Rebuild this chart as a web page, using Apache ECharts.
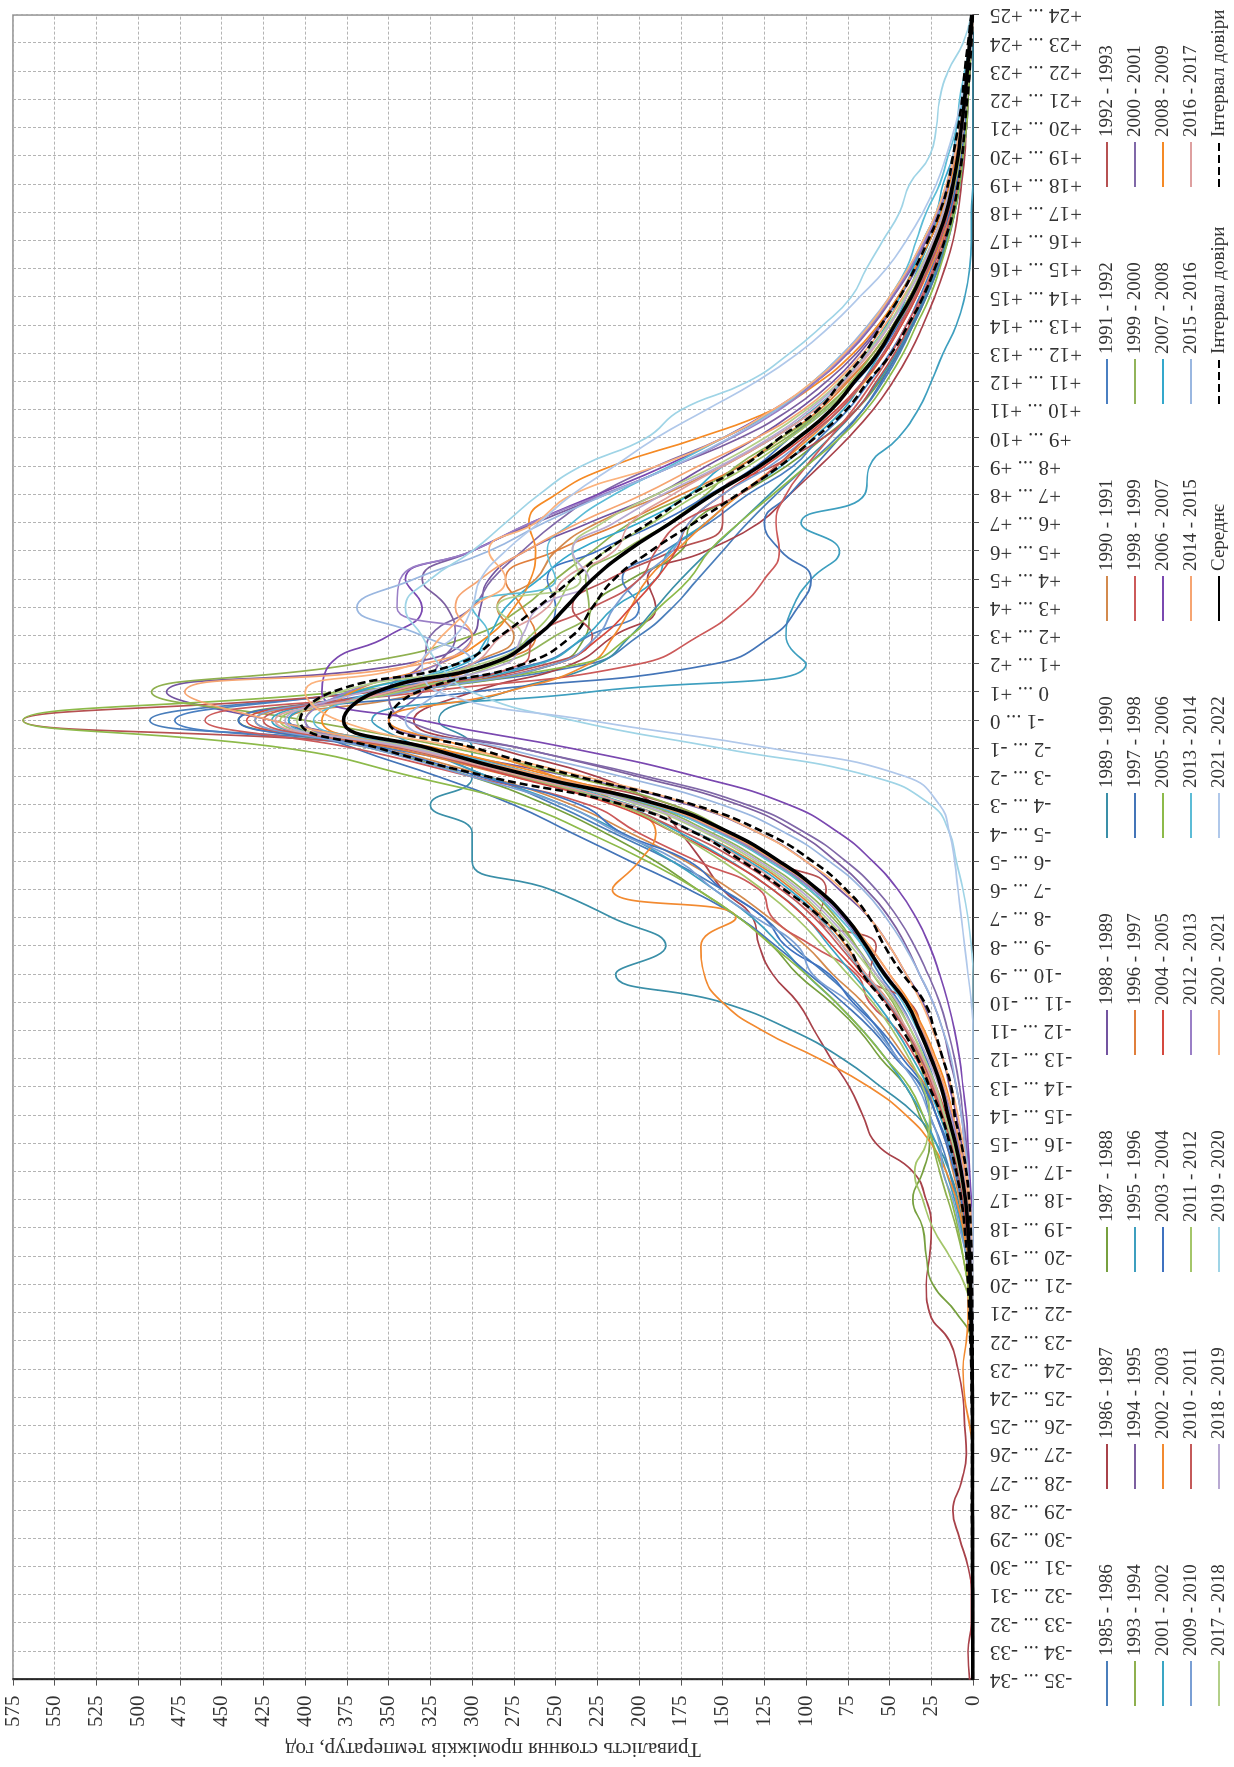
<!DOCTYPE html>
<html>
<head>
<meta charset="utf-8">
<script src="https://cdn.jsdelivr.net/npm/echarts@6.0.0/dist/echarts.min.js"></script>
<style>
  html, body { margin: 0; padding: 0; background: #fff; overflow: hidden; }
  /* chart is laid out normally, then turned 90deg counter-clockwise like the figure */
  #chart {
    position: absolute; left: 0; top: 0;
    width: 1767px; height: 1234px;
    transform-origin: 0 0;
    transform: translate(0px, 1767px) rotate(-90deg);
  }
</style>
</head>
<body>
<div id="chart"></div>
<script>
var FONT = "'Liberation Serif', 'DejaVu Serif', serif";

// temperature intervals (x axis)
var categories = [
  "-35 ... -34", "-34 ... -33", "-33 ... -32", "-32 ... -31", "-31 ... -30",
  "-30 ... -29", "-29 ... -28", "-28 ... -27", "-27 ... -26", "-26 ... -25",
  "-25 ... -24", "-24 ... -23", "-23 ... -22", "-22 ... -21", "-21 ... -20",
  "-20 ... -19", "-19 ... -18", "-18 ... -17", "-17 ... -16", "-16 ... -15",
  "-15 ... -14", "-14 ... -13", "-13 ... -12", "-12 ... -11", "-11 ... -10",
  "-10 ... -9", "-9 ... -8", "-8 ... -7", "-7 ... -6", "-6 ... -5",
  "-5 ... -4", "-4 ... -3", "-3 ... -2", "-2 ... -1", "-1 ... 0",
  "0 ... +1", "+1 ... +2", "+2 ... +3", "+3 ... +4", "+4 ... +5",
  "+5 ... +6", "+6 ... +7", "+7 ... +8", "+8 ... +9", "+9 ... +10",
  "+10 ... +11", "+11 ... +12", "+12 ... +13", "+13 ... +14", "+14 ... +15",
  "+15 ... +16", "+16 ... +17", "+17 ... +18", "+18 ... +19", "+19 ... +20",
  "+20 ... +21", "+21 ... +22", "+22 ... +23", "+23 ... +24", "+24 ... +25"
];

var years = [
  "1985 - 1986", "1986 - 1987", "1987 - 1988", "1988 - 1989", "1989 - 1990",
  "1990 - 1991", "1991 - 1992", "1992 - 1993", "1993 - 1994", "1994 - 1995",
  "1995 - 1996", "1996 - 1997", "1997 - 1998", "1998 - 1999", "1999 - 2000",
  "2000 - 2001", "2001 - 2002", "2002 - 2003", "2003 - 2004", "2004 - 2005",
  "2005 - 2006", "2006 - 2007", "2007 - 2008", "2008 - 2009", "2009 - 2010",
  "2010 - 2011", "2011 - 2012", "2012 - 2013", "2013 - 2014", "2014 - 2015",
  "2015 - 2016", "2016 - 2017", "2017 - 2018", "2018 - 2019", "2019 - 2020",
  "2020 - 2021", "2021 - 2022"
];

var yearColors = [
  "#4a7ebb", "#a8424a", "#77a03f", "#7354a0", "#3a8fa8",
  "#d38a4e", "#4a7fc1", "#b65152", "#8fb04f", "#7c5fa0",
  "#3e9fbf", "#e07f3c", "#4475b8", "#cc5a5a", "#92b45a",
  "#8068a8", "#3aa6c4", "#f28a30", "#3f72c0", "#d5493f",
  "#8dba4a", "#7a48b0", "#34a8cc", "#f58a25", "#7a9fd4",
  "#c45a5a", "#a4c66a", "#9a7fc6", "#5cbcd6", "#f6a572",
  "#9ab7e0", "#dea0a0", "#b3cf88", "#b8a9d2", "#9fd4e6",
  "#fbb27c", "#b0c8ea"
];

// hours per interval, one array per season
var d1985 = [0,0,0,0,0,0,0,0,0,0, 0,0,1,2,3,4,7,10,14,19, 26,31,45,56,70,88,108,125,150,180, 215,250,290,340,493,365,230,200,180,165, 150,135,118,100,82,66,54,44,36,29, 22,16,11,8,6,4,3,2,1,0];
var d1986 = [2,3,1,1,3,8,12,7,4,5, 6,9,14,26,28,26,25,28,36,58, 66,74,85,95,105,120,128,132,150,162, 175,190,225,285,335,300,240,215,190,195, 160,128,110,92,75,60,48,38,30,23, 17,12,9,7,5,4,3,2,1,0];
var d1987 = [0,0,0,0,0,0,0,0,0,0, 0,0,1,10,24,28,30,36,30,26, 32,40,55,68,85,105,120,140,165,190, 220,255,300,360,440,340,250,232,228,205, 175,168,140,112,90,70,56,45,36,28, 21,16,12,9,7,5,3,2,1,0];
var d1988 = [0,0,0,0,0,0,0,0,0,0, 0,0,0,0,0,1,2,3,5,7, 10,14,18,24,30,40,50,62,80,100, 128,170,240,330,420,483,340,300,295,290, 268,230,190,160,130,105,84,68,55,44, 34,26,19,14,10,7,5,3,2,0];
var d1989 = [0,0,0,0,0,0,0,0,0,0, 0,0,0,1,2,4,6,9,14,22, 34,55,78,108,150,214,184,216,253,300, 300,325,300,300,320,280,225,205,190,175, 158,140,122,104,86,70,57,46,37,29, 22,16,11,8,6,4,3,2,1,0];
var d1990 = [0,0,0,0,0,0,0,0,0,0, 0,0,0,1,2,3,5,8,12,16, 22,28,40,52,66,84,100,122,145,172, 205,240,290,350,410,330,300,275,285,262, 250,225,185,150,120,95,76,60,48,38, 29,22,16,11,8,6,4,3,1,0];
var d1991 = [0,0,0,0,0,0,0,0,0,0, 0,0,0,0,1,2,3,5,8,12, 17,22,28,35,44,56,66,78,96,120, 150,195,270,350,478,370,262,230,200,210, 185,158,135,108,92,75,62,50,40,32, 25,19,14,10,7,5,4,3,1,0];
var d1992 = [0,0,0,0,0,0,0,0,0,0, 0,0,0,0,0,1,2,4,6,9, 13,18,24,30,38,62,58,92,88,120, 150,180,255,330,569,360,255,228,240,218, 180,150,150,120,90,70,58,47,38,30, 23,17,13,9,7,5,3,2,1,0];
var d1993 = [0,0,0,0,0,0,0,0,0,0, 0,0,0,1,3,6,10,15,20,24, 26,28,33,40,48,60,70,82,98,120, 145,180,240,310,400,492,370,300,270,250, 228,205,170,140,112,90,72,58,46,36, 28,21,15,11,8,6,4,3,1,0];
var d1994 = [0,0,0,0,0,0,0,0,0,0, 0,0,0,0,0,0,1,2,3,5, 7,10,14,18,24,32,40,50,64,82, 105,140,200,270,350,330,320,310,315,330, 300,262,220,180,140,110,88,70,56,45, 35,26,19,14,10,7,5,3,2,0];
var d1995 = [0,0,0,0,0,0,0,0,0,0, 0,0,0,1,2,4,7,11,16,22, 30,40,52,66,82,100,115,132,155,180, 210,245,290,330,360,230,100,112,108,97, 80,103,65,62,45,33,25,18,10,5, 2,1,1,0,0,0,0,0,0,0];
var d1996 = [0,0,0,0,0,0,0,0,0,0, 0,0,0,0,1,2,4,7,10,14, 19,25,32,40,50,64,76,90,108,132, 165,205,275,345,430,350,290,262,270,280, 250,210,175,140,115,92,75,60,48,38, 29,22,16,11,8,6,4,3,1,0];
var d1997 = [0,0,0,0,0,0,0,0,0,0, 0,0,0,0,1,2,4,6,10,15, 22,30,46,60,78,98,118,140,170,205, 240,275,320,370,410,300,155,120,105,97, 115,125,110,95,80,66,55,45,36,28, 21,15,11,8,6,4,3,2,1,0];
var d1998 = [0,0,0,0,0,0,0,0,0,0, 0,0,0,0,1,2,3,5,8,12, 18,25,34,45,62,70,96,120,128,165, 200,230,300,370,460,330,200,164,140,125, 116,118,112,100,86,72,60,49,40,31, 24,18,13,9,6,4,3,2,1,0];
var d1999 = [0,0,0,0,0,0,0,0,0,0, 0,0,0,0,1,2,4,6,9,13, 18,23,29,37,46,58,70,84,102,126, 156,195,260,330,400,372,285,250,230,232, 210,182,160,142,115,90,73,60,48,38, 30,22,16,12,8,6,4,3,1,0];
var d2000 = [0,0,0,0,0,0,0,0,0,0, 0,0,0,0,0,0,1,2,3,4, 6,8,11,15,20,27,35,45,58,76, 100,135,195,270,340,350,330,325,300,288, 270,250,225,190,150,118,94,75,60,48, 37,28,20,15,11,8,5,3,2,0];
var d2001 = [0,0,0,0,0,0,0,0,0,0, 0,0,0,0,1,2,3,6,9,14, 20,27,36,46,58,72,86,100,120,145, 175,210,270,340,420,350,260,232,215,190, 182,160,140,115,96,78,66,56,47,40, 33,26,20,15,11,8,5,3,1,0];
var d2002 = [0,0,0,0,0,0,0,0,0,2, 5,6,4,3,3,4,6,10,16,25, 40,62,92,126,150,161,163,142,216,200, 190,210,250,300,350,280,230,215,205,195, 178,160,140,118,98,80,65,53,43,34, 26,19,14,10,7,5,3,2,1,0];
var d2003 = [0,0,0,0,0,0,0,0,0,0, 0,0,0,0,1,2,4,7,11,16, 22,29,42,55,72,86,112,125,150,170, 210,235,295,355,440,355,300,262,250,255, 225,188,158,130,110,88,70,56,45,35, 27,20,14,10,7,5,3,2,1,0];
var d2004 = [0,0,0,0,0,0,0,0,0,0, 0,0,0,0,0,1,2,4,7,11, 16,22,30,40,52,68,84,100,120,146, 178,215,275,340,435,345,250,222,205,190, 178,170,150,125,102,82,66,53,43,34, 27,20,15,11,8,6,4,3,1,0];
var d2005 = [0,0,0,0,0,0,0,0,0,0, 0,0,0,1,3,6,9,13,18,24, 30,38,52,66,82,100,120,140,165,195, 230,270,335,410,569,380,235,205,188,170, 158,140,120,100,80,64,52,42,34,26, 20,15,11,8,6,4,3,2,1,0];
var d2006 = [0,0,0,0,0,0,0,0,0,0, 0,0,0,0,0,0,0,1,2,3, 4,6,8,11,15,20,26,34,45,60, 80,110,165,240,330,390,385,350,330,340, 300,265,225,185,150,120,95,76,61,49, 38,29,21,15,11,8,5,3,2,0];
var d2007 = [0,0,0,0,0,0,0,0,0,0, 0,0,0,0,0,1,3,5,8,12, 17,23,31,40,51,65,78,92,110,134, 165,205,265,335,410,370,305,290,280,260, 238,200,170,150,120,96,78,64,52,44, 36,30,22,18,12,10,6,4,1,0];
var d2008 = [0,0,0,0,0,0,0,0,0,0, 0,0,0,0,0,1,2,3,5,8, 12,16,22,29,38,50,62,76,94,118, 148,190,250,320,390,372,320,290,275,265, 262,266,250,217,165,120,92,72,57,45, 35,26,19,14,10,7,5,3,2,0];
var d2009 = [0,0,0,0,0,0,0,0,0,0, 0,0,0,1,2,4,8,12,18,20, 26,33,45,58,74,96,105,130,155,176, 212,245,300,360,430,340,250,225,215,200, 180,170,150,122,100,80,66,54,44,35, 27,20,15,11,8,6,4,3,1,0];
var d2010 = [0,0,0,0,0,0,0,0,0,0, 0,0,0,0,1,2,4,6,9,13, 18,24,31,40,52,66,80,95,115,140, 172,212,272,340,425,350,270,262,228,200, 190,175,140,118,100,80,66,54,44,35, 27,20,15,11,8,6,4,3,1,0];
var d2011 = [0,0,0,0,0,0,0,0,0,0, 0,0,0,1,5,14,24,30,35,28, 26,30,38,48,60,75,90,106,126,150, 178,212,270,335,415,345,285,265,250,240, 220,192,165,135,110,88,71,58,47,37, 29,22,16,11,8,6,4,3,1,0];
var d2012 = [0,0,0,0,0,0,0,0,0,0, 0,0,0,0,0,1,2,4,6,9, 13,18,24,31,40,52,64,78,96,120, 150,192,256,330,400,375,320,300,345,343, 300,265,222,180,145,116,94,76,61,49, 38,29,21,15,11,8,5,3,2,0];
var d2013 = [0,0,0,0,0,0,0,0,0,0, 0,0,0,0,0,1,2,4,7,10, 14,19,25,33,42,54,66,80,98,122, 152,192,255,325,395,360,310,290,300,250, 255,240,215,182,150,118,96,78,62,50, 40,34,28,20,15,10,8,5,2,0];
var d2014 = [0,0,0,0,0,0,0,0,0,0, 0,0,0,0,0,1,2,3,5,8, 12,17,23,30,39,50,62,76,94,118, 148,190,255,335,420,472,330,300,310,295, 268,236,198,165,130,102,82,66,53,42, 32,24,18,13,9,6,4,3,1,0];
var d2015 = [0,0,0,0,0,0,0,0,0,0, 0,0,0,0,0,0,1,2,3,5, 7,10,13,18,24,32,41,52,66,86, 112,150,210,280,340,320,300,330,369,335, 290,257,220,180,146,118,96,78,63,50, 39,30,22,16,12,8,6,4,2,0];
var d2016 = [0,0,0,0,0,0,0,0,0,0, 0,0,0,0,1,2,3,5,8,12, 17,23,30,39,50,64,78,93,112,136, 166,206,268,338,418,350,300,282,255,245, 215,205,180,150,120,95,77,62,50,40, 31,23,17,12,9,6,4,3,1,0];
var d2017 = [0,0,0,0,0,0,0,0,0,0, 0,0,0,0,0,1,3,5,8,12, 17,22,29,37,47,60,73,88,106,130, 160,200,262,332,405,380,295,270,285,235, 240,222,190,155,125,100,80,64,51,41, 32,24,18,13,9,6,4,3,1,0];
var d2018 = [0,0,0,0,0,0,0,0,0,0, 0,0,0,0,0,1,2,4,6,10, 14,20,27,35,45,58,71,86,104,128, 158,198,262,335,412,365,280,270,260,230, 240,215,186,152,122,98,79,63,50,40, 31,24,18,13,9,6,4,3,1,0];
var d2019 = [0,0,0,0,0,0,0,0,0,0, 0,0,0,0,0,0,0,0,0,0, 0,0,0,0,0,0,1,3,6,10, 14,25,60,150,240,300,320,330,340,325, 300,280,260,235,196,175,135,110,90,73, 64,54,44,38,26,22,20,15,6,1];
var d2020 = [0,0,0,0,0,0,0,0,0,0, 0,0,0,0,0,0,1,2,4,6, 9,13,18,24,31,40,50,62,78,100, 128,168,232,305,380,400,335,318,300,280, 290,262,240,190,150,120,96,77,62,50, 39,30,22,16,11,8,5,3,2,0];
var d2021 = [0,0,0,0,0,0,0,0,0,0, 0,0,0,0,0,0,0,0,0,0, 0,0,0,0,1,3,5,7,9,11, 14,20,40,120,230,320,330,310,300,295, 280,260,240,215,190,160,130,105,85,68, 52,40,30,22,16,11,7,4,2,0];

var yearData = [
  d1985, d1986, d1987, d1988, d1989, d1990, d1991, d1992, d1993, d1994,
  d1995, d1996, d1997, d1998, d1999, d2000, d2001, d2002, d2003, d2004,
  d2005, d2006, d2007, d2008, d2009, d2010, d2011, d2012, d2013, d2014,
  d2015, d2016, d2017, d2018, d2019, d2020, d2021
];

// mean and confidence interval
var meanValues = [0.1,0.1,0.1,0.1,0.2,0.2,0.3,0.3,0.3,0.3, 0.4,0.5,0.8,1.2,1.6,2.2,3,4.5,7,10.5, 15,19,25,32,40,53,64,76,93,116, 145,187,262,325,377,358,289,261,244,228, 207,181,156,128,105,85,71,57,47,37, 29,22,16,12,9,7,5,3.5,2,0.5];
var ciUpper = [0.2,0.2,0.2,0.2,0.5,0.5,0.7,0.6,0.6,0.6, 0.8,1,1.6,2.2,3,3.8,5,7,10,14, 19,26,33,42,53,66,75,91,113,138, 166,209,290,355,403,384,309,283,261,240, 220,194,169,138,116,93,79,65,55,44, 35,27,20,15,12,9,6.5,5,3,1];
var ciLower = [0,0,0,0,0,0,0,0,0,0, 0,0.1,0.2,0.4,0.6,0.8,1.4,2.3,4,7, 11,13,18,23,29,42,53,62,76,96, 124,167,236,297,350,333,269,240,228,215, 193,167,141,116,95,76,63,49,39,30, 23,17,12,9,6.5,5,3.5,2,1,0];

var MEAN_NAME = "Середнє";
var CI_NAME = "Інтервал довіри";
var NO_SYMBOL = "rgba(0,0,0,0)"; // keeps the legend icon a plain line

var myChart = echarts.init(document.getElementById("chart"));

var series = [];
for (var i = 0; i < years.length; i++) {
  series.push({
    name: years[i],
    type: "line",
    data: yearData[i],
    smooth: 0.5,
    symbol: "none",
    lineStyle: { width: 1.7, color: yearColors[i] },
    itemStyle: { color: NO_SYMBOL },
    z: 2
  });
}
series.push({
  name: CI_NAME, type: "line", data: ciUpper, smooth: 0.5, symbol: "none",
  lineStyle: { width: 2.6, color: "#000", type: [8, 4] }, itemStyle: { color: NO_SYMBOL }, z: 4
});
series.push({
  name: CI_NAME, type: "line", data: ciLower, smooth: 0.5, symbol: "none",
  lineStyle: { width: 2.6, color: "#000", type: [8, 4] }, itemStyle: { color: NO_SYMBOL }, z: 4
});
series.push({
  name: MEAN_NAME, type: "line", data: meanValues, smooth: 0.5, symbol: "none",
  lineStyle: { width: 3.6, color: "#000" }, itemStyle: { color: NO_SYMBOL }, z: 5
});

// legend: 8 columns of 5 rows (as in the original figure)
var extraNames = [MEAN_NAME, CI_NAME, CI_NAME];
var legends = [];
for (var c = 0; c < 8; c++) {
  var names = [years[c], years[c + 8], years[c + 16], years[c + 24]];
  names.push(c + 32 < years.length ? years[c + 32] : extraNames[c - 5]);
  legends.push({
    orient: "vertical",
    left: 55 + 217 * c,
    top: 1092,
    itemWidth: 45,
    itemHeight: 14,
    itemGap: 8,
    selectedMode: false,
    data: names,
    textStyle: { fontFamily: FONT, fontSize: 19, lineHeight: 20, color: "#333" }
  });
}

var option = {
  animation: false,
  backgroundColor: "#fff",
  textStyle: { fontFamily: FONT },
  grid: {
    left: 83, right: 15, top: 13, bottom: 261,
    show: true, borderColor: "#8c8c8c", borderWidth: 1.5
  },
  legend: legends,
  xAxis: {
    type: "category",
    data: categories,
    boundaryGap: false,
    axisLine: { lineStyle: { color: "#000", width: 1.5 } },
    axisTick: { show: true, interval: 0, length: 6, lineStyle: { color: "#555" } },
    axisLabel: { interval: 0, rotate: 90, margin: 17, fontSize: 21, color: "#333", fontFamily: FONT },
    splitLine: { show: true, interval: 0, lineStyle: { color: "#b4b4b4", type: [3, 2], width: 1 } }
  },
  yAxis: {
    type: "value",
    min: 0,
    max: 575,
    interval: 25,
    name: "Тривалість стояння проміжків температур, год",
    nameLocation: "middle",
    nameGap: 56,
    nameTextStyle: { fontSize: 21, color: "#333", fontFamily: FONT },
    axisLine: { show: true, lineStyle: { color: "#000", width: 1.5 } },
    axisTick: { show: true, length: 6, lineStyle: { color: "#555" } },
    axisLabel: { fontSize: 21, margin: 16, color: "#333", fontFamily: FONT },
    splitLine: { lineStyle: { color: "#b4b4b4", type: [3, 2], width: 1 } }
  },
  series: series
};

myChart.setOption(option);
</script>
</body>
</html>
